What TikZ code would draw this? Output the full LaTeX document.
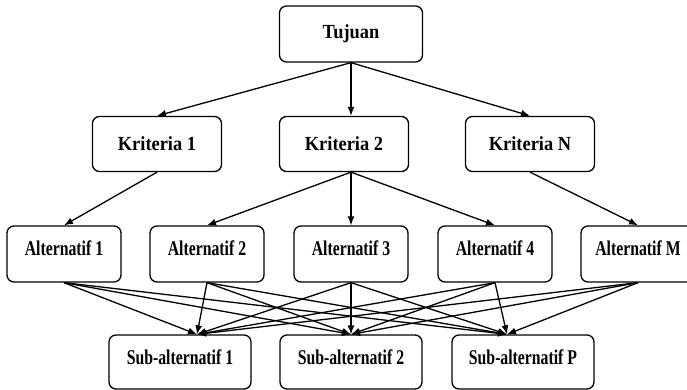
\documentclass[tikz,border=0pt]{standalone}
\usepackage{fontspec}
\setmainfont{Liberation Serif}
\newfontfamily\kritfont{Liberation Serif}[FakeStretch=0.92]
\newfontfamily\altfont{Liberation Serif}[FakeStretch=0.75]
\usetikzlibrary{arrows.meta, positioning}

\begin{document}
\begin{tikzpicture}[>={Latex[length=9pt,width=7pt]}, line width=1.3pt,
  goalbox/.style={rectangle, rounded corners=7pt, draw, fill=white,
    minimum width=143pt, minimum height=56pt, align=center, font=\kritfont\fontsize{20}{24}\selectfont\bfseries},
  kritbox/.style={goalbox, minimum width=129pt, minimum height=55pt},
  altbox/.style={goalbox, minimum width=114pt, minimum height=56pt, text height=14.5pt, text depth=12.5pt,
    font=\altfont\fontsize{21}{24}\selectfont\bfseries},
  subbox/.style={altbox, minimum width=142pt, minimum height=54pt, text depth=10pt}]
  \useasboundingbox[fill=white] (0,0) rectangle (687pt,-390pt);

  % goal and criteria
  \node[goalbox] (goal) at (351pt,-34pt) {Tujuan};
  \node[kritbox, node distance=110pt, below of=goal, xshift=-7pt] (krit2) {Kriteria 2};
  \node[kritbox, node distance=187pt, left of=krit2]  (krit1) {Kriteria 1};
  \node[kritbox, node distance=186pt, right of=krit2] (kritN) {Kriteria N};

  % alternatives
  \node[altbox, node distance=220pt, below of=goal]  (alt3) {Alternatif 3};
  \node[altbox, node distance=144pt, left of=alt3]   (alt2) {Alternatif 2};
  \node[altbox, node distance=143pt, left of=alt2]   (alt1) {Alternatif 1};
  \node[altbox, node distance=144pt, right of=alt3]  (alt4) {Alternatif 4};
  \node[altbox, node distance=143pt, right of=alt4]  (altM) {Alternatif M};

  % sub-alternatives
  \node[subbox, node distance=108pt, below of=alt3] (sub2) {Sub-alternatif 2};
  \node[subbox, node distance=171pt, left of=sub2]  (sub1) {Sub-alternatif 1};
  \node[subbox, node distance=172pt, right of=sub2] (subP) {Sub-alternatif P};

  \coordinate (k2top) at ([xshift=7pt]krit2.north);
  \coordinate (k2bot) at ([xshift=7pt]krit2.south);
  \coordinate (in1) at ([xshift=17pt]sub1.north);
  \coordinate (in2) at (sub2.north);
  \coordinate (inP) at ([xshift=-16pt]subP.north);

  \draw[->] (goal.south) -- (krit1.north);
  \draw[->] (goal.south) -- (k2top);
  \draw[->] (goal.south) -- (kritN.north);

  \draw[->] (krit1.south) -- (alt1.north);
  \draw[->] (k2bot) -- (alt2.north);
  \draw[->] (k2bot) -- (alt3.north);
  \draw[->] (k2bot) -- (alt4.north);
  \draw[->] (kritN.south) -- (altM.north);

  \draw[->] (alt1.south) -- (in1);
  \draw[->] (alt1.south) -- (in2);
  \draw[->] (alt1.south) -- (inP);
  \draw[->] (alt2.south) -- (in1);
  \draw[->] (alt2.south) -- (in2);
  \draw[->] (alt2.south) -- (inP);
  \draw[->] (alt3.south) -- (in1);
  \draw[->] (alt3.south) -- (in2);
  \draw[->] (alt3.south) -- (inP);
  \draw[->] (alt4.south) -- (in1);
  \draw[->] (alt4.south) -- (in2);
  \draw[->] (alt4.south) -- (inP);
  \draw[->] (altM.south) -- (in1);
  \draw[->] (altM.south) -- (in2);
  \draw[->] (altM.south) -- (inP);
\end{tikzpicture}
\end{document}
